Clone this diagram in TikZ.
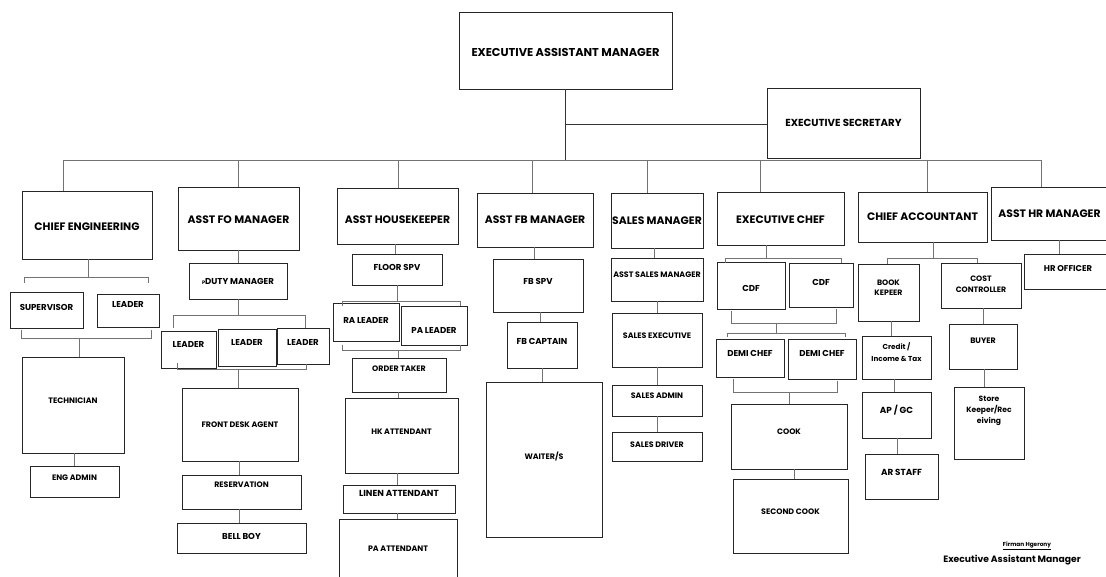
\documentclass[tikz,border=0pt]{standalone}
\usepackage{fontspec}
\setmainfont{Poppins}
\newcommand\fTop{\fontsize{11.4}{13}\selectfont\bfseries}
\newcommand\fSec{\fontsize{10.2}{12}\selectfont\bfseries}
\newcommand\fL{\fontsize{10.8}{12}\selectfont\bfseries}
\newcommand\fM{\fontsize{8.6}{10}\selectfont\bfseries}
\newcommand\fS{\fontsize{7.9}{9}\selectfont\bfseries}
\newcommand\fSl{\fontsize{7.8}{10.5}\selectfont\bfseries}
\newcommand\fX{\fontsize{7.2}{12.5}\selectfont\bfseries}
\newcommand\fXm{\fontsize{8.8}{10}\selectfont\bfseries}
\newcommand\fXs{\fontsize{7.6}{11}\selectfont\bfseries}
\newcommand\bx[8]{%
  \node[box,minimum width={(#4)-(#2)},minimum height={(#5)-(#3)}] (#1) at ({((#2)+(#4))/2},{((#3)+(#5))/2}) {};
  \node[txt,font=#7] (#1t) at ([yshift={-(#6)}]#1.center) {#8};}
\tikzset{
  box/.style={draw=black!85, line width=0.9pt, rectangle, inner sep=0pt},
  txt/.style={inner sep=0pt, align=center},
  con/.style={draw=black!55, line width=0.9pt},
}
\begin{document}
\begin{tikzpicture}[x=1pt,y=-1pt]
\fill[white] (0,0) rectangle (1106,577);
\useasboundingbox (0,0) rectangle (1106,577);
% top
\bx{eam}{459}{12}{672}{89}{2}{\fTop}{EXECUTIVE ASSISTANT MANAGER}
\bx{es}{767}{88}{920}{158}{0}{\fSec}{EXECUTIVE SECRETARY}
\coordinate (hub) at (565,160);
\coordinate (sj) at (565,124);
\coordinate (busL) at (63,160);
\coordinate (busR) at (1041,160);
\draw[con,draw=black!80] (eam.south -| hub) -- (hub);
\draw[con,draw=black!80] (sj) -- (es.west |- sj);
\draw[con] (busL) -- (busR);
% level 1
\bx{ce}{22}{191}{152}{259}{2}{\fL}{CHIEF ENGINEERING}
\bx{fo}{178}{187}{299}{250}{1.5}{\fL}{ASST FO MANAGER}
\bx{hk}{337}{188}{458}{244}{4}{\fL}{ASST HOUSEKEEPER}
\bx{fb}{477}{193}{593}{247}{0}{\fL}{ASST FB MANAGER}
\bx{sm}{611}{193}{703}{248}{0}{\fL}{SALES MANAGER}
\bx{ec}{717}{192}{844}{245}{1.5}{\fL}{EXECUTIVE CHEF}
\bx{ca}{858}{192}{987}{242}{0}{\fL}{CHIEF ACCOUNTANT}
\bx{hr}{991}{187}{1108}{240}{0}{\fL}{ASST HR MANAGER}
\foreach \n/\x in {ce/63,fo/238,hk/398,fb/532,sm/647,ec/760,ca/927,hr/1041}
  \draw[con] (\x,160) -- (\n.north -| \x,0);
% chief engineering
\bx{sup}{10}{292}{83}{328}{-3}{\fM}{SUPERVISOR}
\bx{ldr}{97}{294}{159}{327}{-6}{\fM}{LEADER}
\bx{tech}{22}{357}{124}{453}{-4}{\fS}{TECHNICIAN}
\bx{ea}{30}{466}{119}{497}{-4}{\fS}{ENG ADMIN}
\draw[con] (ce.south -| 88,0) -- (88,277);
\draw[con] (24,283) -- (24,277) -- (148,277) -- (148,283);
\draw[con] (21,330) -- (21,338) -- (151,338) -- (151,330);
\draw[con] (79,338) -- (tech.north -| 79,0);
\draw[con] (tech.south -| 74,0) -- (ea.north -| 74,0);
% front office
\bx{dm}{189}{263}{287}{299}{0}{\fM}{{\fontsize{5}{6}\selectfont P}DUTY MANAGER}
\bx{la}{161}{331}{216}{368}{-5}{\fM}{LEADER}
\bx{lb}{218}{329}{276}{366}{-5}{\fM}{LEADER}
\bx{lc}{277}{328}{329}{364}{-4}{\fM}{LEADER}
\bx{fda}{182}{388}{298}{461}{0}{\fS}{FRONT DESK AGENT}
\bx{res}{182}{475}{301}{509}{-7}{\fS}{RESERVATION}
\bx{bb}{177}{523}{306}{553}{-2}{\fM}{BELL BOY}
\draw[con] (fo.south -| 238,0) -- (dm.north -| 238,0);
\draw[con] (dm.south -| 238,0) -- (238,315);
\draw[con] (173,328) -- (173,315) -- (305,315) -- (305,328);
\draw[con] (177,363) -- (177,369) -- (306,369) -- (306,364);
\draw[con] (238,369) -- (fda.north -| 238,0);
\draw[con] (fda.south -| 239,0) -- (res.north -| 239,0);
\draw[con] (res.south -| 239,0) -- (bb.north -| 239,0);
% housekeeping
\bx{fs}{352}{254}{442}{285}{-2}{\fM}{FLOOR SPV}
\bx{ra}{333}{303}{399}{341}{-2}{\fM}{RA LEADER}
\bx{pl}{401}{306}{467}{345}{4.5}{\fM}{PA LEADER}
\bx{ot}{352}{358}{446}{392}{-6}{\fS}{ORDER TAKER}
\bx{hka}{345}{398}{458}{473}{-4}{\fS}{HK ATTENDANT}
\bx{lin}{343}{485}{455}{513}{-6}{\fontsize{8.8}{10}\selectfont\bfseries}{LINEN ATTENDANT}
\bx{paa}{339}{519}{457}{592}{-6.5}{\fS}{PA ATTENDANT}
\draw[con] (hk.south -| 395,0) -- (fs.north -| 395,0);
\draw[con] (fs.south -| 397,0) -- (397,301);
\draw[con] (342,306) -- (342,301) -- (460,301) -- (460,306);
\draw[con] (342,345) -- (342,350) -- (460,350) -- (460,345);
\draw[con] (398,350) -- (ot.north -| 398,0);
\draw[con] (ot.south -| 398,0) -- (hka.north -| 398,0);
\draw[con] (hka.south -| 397,0) -- (lin.north -| 397,0);
\draw[con] (lin.south -| 397,0) -- (paa.north -| 397,0);
% F&B
\bx{fbs}{493}{259}{583}{312}{-4}{\fM}{FB SPV}
\bx{fbc}{507}{322}{577}{368}{-4}{\fM}{FB CAPTAIN}
\bx{wt}{486}{382}{602}{537}{-3}{\fS}{WAITER/S}
\draw[con] (fb.south -| 534,0) -- (fbs.north -| 534,0);
\draw[con] (fbs.south -| 540,0) -- (fbc.north -| 540,0);
\draw[con] (fbc.south -| 542,0) -- (wt.north -| 542,0);
% sales
\bx{asm}{611}{258}{703}{301}{-4.5}{\fS}{ASST SALES MANAGER}
\bx{se}{612}{313}{702}{367}{-4}{\fS}{SALES EXECUTIVE}
\bx{sa}{612}{385}{702}{416}{-4.5}{\fS}{SALES ADMIN}
\bx{sd}{612}{432}{702}{461}{-2}{\fS}{SALES DRIVER}
\draw[con] (sm.south -| 654,0) -- (asm.north -| 654,0);
\draw[con] (asm.south -| 657,0) -- (se.north -| 657,0);
\draw[con] (se.south -| 657,0) -- (sa.north -| 657,0);
\draw[con] (sa.south -| 657,0) -- (sd.north -| 657,0);
% kitchen
\bx{cda}{717}{262}{785}{309}{3}{\fM}{CDF}
\bx{cdb}{789}{263}{853}{307}{-3}{\fM}{CDF}
\bx{dca}{716}{339}{784}{377}{-4.5}{\fM}{DEMI CHEF}
\bx{dcb}{788}{339}{856}{379}{-5.5}{\fM}{DEMI CHEF}
\bx{ck}{731}{404}{847}{469}{-5}{\fS}{COOK}
\bx{sc}{733}{479}{848}{553}{-4}{\fS}{SECOND COOK}
\draw[con] (ec.south -| 766,0) -- (766,258);
\draw[con] (725,263) -- (725,258) -- (841,258) -- (841,263);
\draw[con] (731,311) -- (731,323) -- (836,323) -- (836,309);
\draw[con] (776,323) -- (776,333);
\draw[con] (727,337) -- (727,333) -- (845,333) -- (845,337);
\draw[con] (733,379) -- (733,392) -- (837,392) -- (837,381);
\draw[con] (789,392) -- (ck.north -| 789,0);
\draw[con] (ck.south -| 794,0) -- (sc.north -| 794,0);
% accounting
\bx{bk}{858}{264}{919}{321}{-5}{\fSl}{BOOK\\KEPEER}
\bx{cc}{941}{263}{1021}{308}{-1}{\fSl}{COST\\CONTROLLER}
\bx{cr}{862}{336}{931}{379}{-5.5}{\fX}{Credit /\\Income \& Tax}
\bx{ap}{862}{392}{931}{438}{-5}{\fXm}{AP / GC}
\bx{ar}{865}{454}{938}{499}{-4}{\fXm}{AR STAFF}
\bx{by}{949}{324}{1017}{369}{-6}{\fS}{BUYER}
\bx{stk}{954}{387}{1024}{459}{-12.5}{\fXs}{Store\\Keeper/Rec\\eiving}
\draw[con] (ca.south -| 933,0) -- (933,258);
\draw[con] (887,264) -- (887,258) -- (977,258) -- (977,263);
\draw[con] (bk.south -| 891,0) -- (cr.north -| 891,0);
\draw[con] (cr.south -| 894,0) -- (ap.north -| 894,0);
\draw[con] (ap.south -| 897,0) -- (ar.north -| 897,0);
\draw[con] (cc.south -| 983,0) -- (by.north -| 983,0);
\draw[con] (by.south -| 984,0) -- (stk.north -| 984,0);
% HR
\bx{hro}{1024}{254}{1112}{289}{-3}{\fontsize{8.4}{10}\selectfont\bfseries}{HR OFFICER}
\draw[con] (hr.south -| 1059,0) -- (hro.north -| 1059,0);
% signature
\node[inner sep=0pt,font=\fontsize{5.8}{7}\selectfont\bfseries] (sig1) at (1027,546) {\underline{Firman Hgerony}};
\node[inner sep=0pt,font=\fontsize{9.2}{10}\selectfont\bfseries] (sig2) at (1012,560) {Executive Assistant Manager};
\end{tikzpicture}
\end{document}
